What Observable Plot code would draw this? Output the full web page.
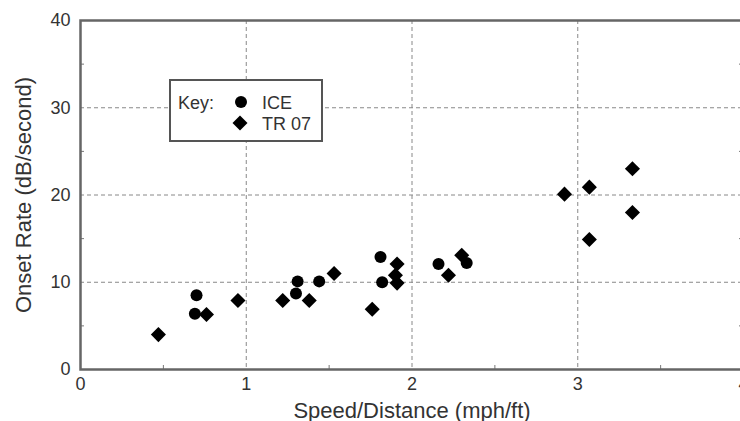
<!DOCTYPE html>
<html>
<head>
<meta charset="utf-8">
<script src="https://cdn.jsdelivr.net/npm/d3@7"></script>
<script src="https://cdn.jsdelivr.net/npm/@observablehq/plot@0.6"></script>
<style>
  html, body { margin: 0; padding: 0; background: #fff; }
  #wrap { position: relative; width: 740px; height: 421px; overflow: hidden; }
  #wrap > svg.plot-root { position: absolute; left: 0; top: 0; }
  #legend { position: absolute; left: 169px; top: 79px; }
</style>
</head>
<body>
<div id="wrap"></div>
<script>
// ---- Data ----
const iceX  = [0.70, 0.69, 1.31, 1.30, 1.44, 1.81, 1.82, 2.16, 2.33];
const iceY  = [8.5, 6.4, 10.1, 8.7, 10.1, 12.9, 10.0, 12.1, 12.2];
const trX   = [0.47, 0.76, 0.95, 1.22, 1.38, 1.53, 1.76, 1.91, 1.90, 1.91, 2.22, 2.30, 2.92, 3.07, 3.07, 3.33, 3.33];
const trY   = [4.0, 6.3, 7.9, 7.9, 7.9, 11.0, 6.9, 12.1, 10.8, 9.9, 10.8, 13.1, 20.1, 20.9, 14.9, 23.0, 18.0];
const xTicks = [0, 1, 2, 3, 4];
const yTicks = [0, 10, 20, 30, 40];
const xGrid = [1, 2, 3];
const yGrid = [10, 20, 30];
const xMinor = [0.5, 1.5, 2.5, 3.5];
const yMinor = [5, 15, 25, 35];
const xLabel = "Speed/Distance (mph/ft)";
const yLabel = "Onset Rate (dB/second)";
const seriesNames = ["ICE", "TR 07"];

const ice = iceX.map((x, i) => ({x, y: iceY[i]}));
const tr = trX.map((x, i) => ({x, y: trY[i]}));

const W = 740, H = 421;
const mL = 80, mR = -3, mT = 20, mB = 52;
const plotW = W - mL - mR, plotH = H - mT - mB;
const font = "'Liberation Sans', Arial, Helvetica, sans-serif";

const chart = Plot.plot({
  width: W, height: H,
  marginLeft: mL, marginRight: mR, marginTop: mT, marginBottom: mB,
  style: {fontFamily: font, fontSize: "18px", color: "#333", background: "#fff", overflow: "visible"},
  x: {domain: [0, 4]},
  y: {domain: [0, 40]},
  marks: [
    Plot.gridX(xGrid, {stroke: "#888", strokeOpacity: 1, strokeDasharray: "4,3"}),
    Plot.gridY(yGrid, {stroke: "#888", strokeOpacity: 1, strokeDasharray: "4,3"}),
    Plot.tickX(xMinor, {x: d => d, insetTop: plotH - 4, stroke: "#777"}),
    Plot.tickY(yMinor, {y: d => d, insetRight: plotW - 4, stroke: "#777"}),
    Plot.tickY(yMinor, {y: d => d, insetLeft: plotW - 4, stroke: "#777"}),
    Plot.frame({stroke: "#666", strokeWidth: 2.5}),
    Plot.axisX({ticks: xTicks, tickSize: 0, tickPadding: 8, label: null, fontSize: 18, tickFormat: d3.format("d")}),
    Plot.axisY({ticks: yTicks, tickSize: 0, tickPadding: 10, label: null, fontSize: 18, tickFormat: d3.format("d")}),
    Plot.text([xLabel], {frameAnchor: "bottom", dy: 48, lineAnchor: "bottom", textAnchor: "middle", fontSize: 22, fill: "#333"}),
    Plot.text([yLabel], {frameAnchor: "left", rotate: -90, dx: -57, textAnchor: "middle", lineAnchor: "middle", fontSize: 22, fill: "#333"}),
    Plot.dot(tr, {x: "x", y: "y", symbol: "diamond2", r: 6.8, fill: "#000", stroke: "none"}),
    Plot.dot(ice, {x: "x", y: "y", symbol: "circle", r: 6, fill: "#000", stroke: "none"})
  ]
});
chart.classList.add("plot-root");
document.getElementById("wrap").appendChild(chart);

// ---- Key box ----
const ns = "http://www.w3.org/2000/svg";
const lg = document.createElementNS(ns, "svg");
lg.setAttribute("id", "legend");
lg.setAttribute("width", 154);
lg.setAttribute("height", 63);
lg.style.fontFamily = font;
lg.innerHTML = `
  <rect x="1" y="1" width="152" height="61" fill="#fff" stroke="#555" stroke-width="2"/>
  <text x="9" y="30" font-size="18" fill="#333">Key:</text>
  <circle cx="72" cy="23" r="6" fill="#000"/>
  <path d="M71,36.5L78.5,44L71,51.5L63.5,44Z" fill="#000"/>
  <text x="93" y="30" font-size="18" fill="#333">${seriesNames[0]}</text>
  <text x="93" y="51" font-size="18" fill="#333">${seriesNames[1]}</text>
`;
document.getElementById("wrap").appendChild(lg);
</script>
</body>
</html>
